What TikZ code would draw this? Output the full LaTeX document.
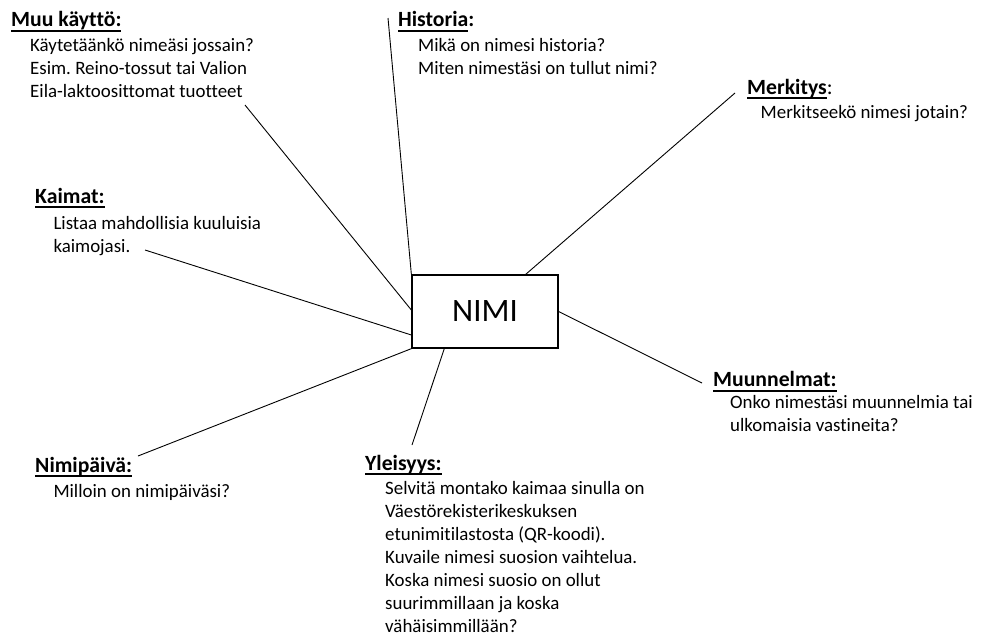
\documentclass[tikz,border=0pt]{standalone}
\usepackage{fontspec}
\setmainfont{Carlito}[Ligatures=NoCommon]
\frenchspacing
\newcommand\ulword[1]{\setbox0\hbox{#1}\rlap{\rule[-5pt]{\wd0}{2pt}}\box0}
\newcommand\bodylines[1]{\begin{tabular}[t]{@{}l@{}}#1\end{tabular}}
\tikzset{
  head/.style={anchor=base west, inner sep=0pt, font=\fontsize{21.7}{26}\selectfont\bfseries},
  body/.style={anchor=base west, inner sep=0pt, font=\fontsize{18.9}{23}\selectfont},
  conn/.style={draw=black, line width=0.9pt},
  mainbox/.style={draw=black, line width=1.3pt, minimum width=146pt, minimum height=73pt, inner sep=0pt, font=\fontsize{32.7}{38}\selectfont}
}
\begin{document}
\begin{tikzpicture}[x=1pt,y=-1pt]
\useasboundingbox (0,0) rectangle (984,637);
\node[mainbox] (nimi) at (485,311.5) {NIMI};

\node[head] (muuH) at (11,27) {\ulword{Muu käyttö:}};
\node[body] (muuB) at (30,51) {\bodylines{Käytetäänkö nimeäsi jossain?\\Esim. Reino-tossut tai Valion\\Eila-laktoosittomat tuotteet}};

\node[head] (histH) at (398,27) {\ulword{Historia}:};
\node[body] (histB) at (418,51) {\bodylines{Mikä on nimesi historia?\\Miten nimestäsi on tullut nimi?}};

\node[head] (merH) at (747,94) {\ulword{Merkitys}\mdseries:};
\node[body] (merB) at (760.5,118) {Merkitseekö nimesi jotain?};

\node[head] (kaiH) at (35,203) {\ulword{Kaimat:}};
\node[body] (kaiB) at (53.3,229.5) {\bodylines{Listaa mahdollisia kuuluisia\\kaimojasi.}};

\node[head] (munH) at (713,386.5) {\ulword{Muunnelmat:}};
\node[body] (munB) at (730,408) {\bodylines{Onko nimestäsi muunnelmia tai\\ulkomaisia vastineita?}};

\node[head] (nimH) at (35,472) {\ulword{Nimipäivä:}};
\node[body] (nimB) at (53.3,497.5) {Milloin on nimipäiväsi?};

\node[head] (yleH) at (365,470) {\ulword{Yleisyys:}};
\node[body] (yleB) at (385,494) {\bodylines{Selvitä montako kaimaa sinulla on\\Väestörekisterikeskuksen\\etunimitilastosta (QR-koodi).\\Kuvaile nimesi suosion vaihtelua.\\Koska nimesi suosio on ollut\\suurimmillaan ja koska\\vähäisimmillään?}};

\coordinate (cMuu) at (245,105);
\coordinate (cHist) at (388,18);
\coordinate (cMer) at (735,93);
\coordinate (cKai) at (145,250);
\coordinate (cMun) at (702,383);
\coordinate (cNim) at (138,456);
\coordinate (cYle) at (412,445);

\draw[conn] (cMuu) -- ([yshift=1.5pt]nimi.west);
\draw[conn] (cHist) -- (nimi.north west);
\draw[conn] (cMer) -- ([xshift=40.7pt]nimi.north);
\draw[conn] (cKai) -- ([yshift=-23.5pt]nimi.west);
\draw[conn] (cMun) -- (nimi.east);
\draw[conn] (cNim) -- (nimi.south west);
\draw[conn] (cYle) -- ([xshift=-40.7pt]nimi.south);
\end{tikzpicture}
\end{document}
